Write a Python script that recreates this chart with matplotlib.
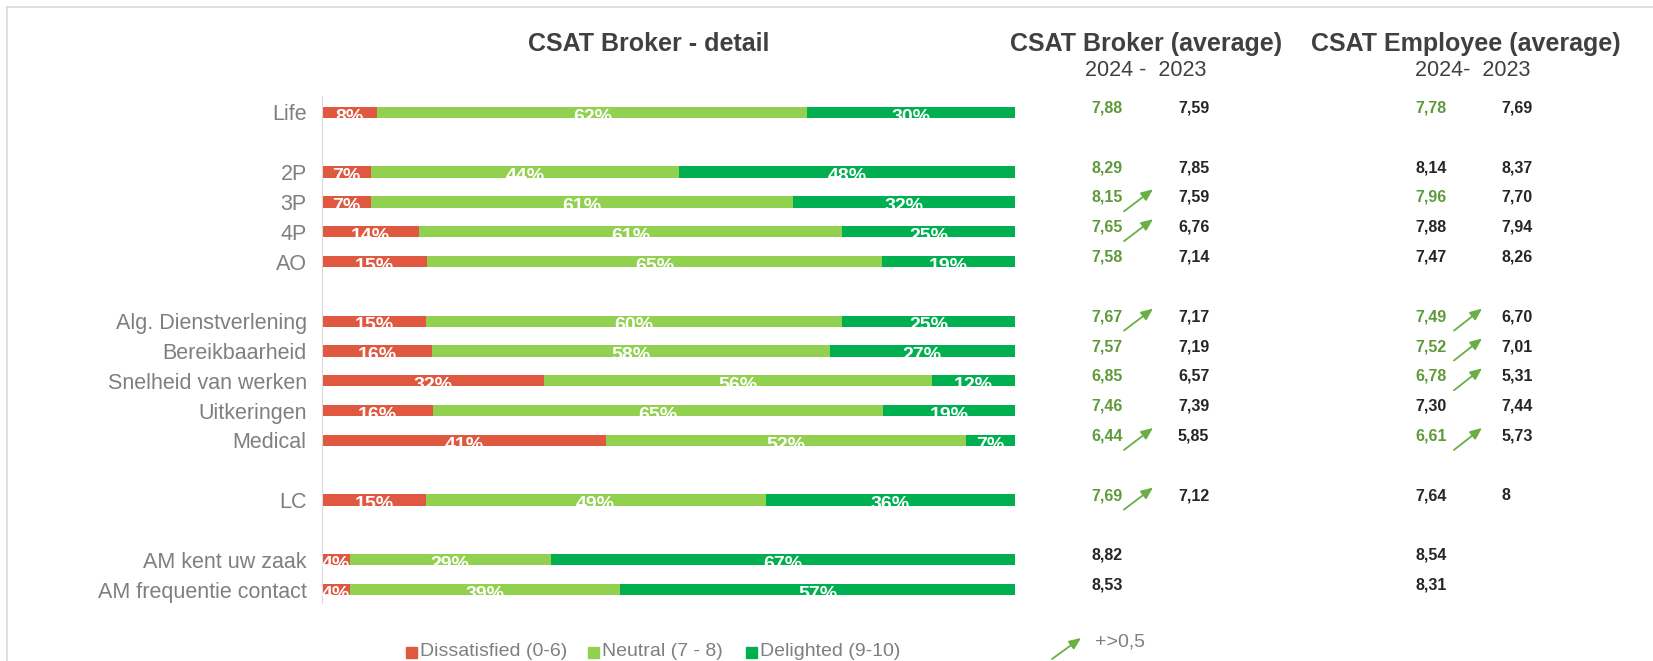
import matplotlib
matplotlib.use('Agg')
import matplotlib.pyplot as plt
import matplotlib.transforms as mtransforms
from matplotlib.patches import Rectangle, FancyArrowPatch
from matplotlib.lines import Line2D

plt.rcParams['font.family'] = ['Liberation Sans', 'DejaVu Sans']

# --- DATOS ---
categorias = ['Life', '2P', '3P', '4P', 'AO', 'Alg. Dienstverlening', 'Bereikbaarheid',
              'Snelheid van werken', 'Uitkeringen', 'Medical', 'LC',
              'AM kent uw zaak', 'AM frequentie contact']
filas = [0, 2, 3, 4, 5, 7, 8, 9, 10, 11, 13, 15, 16]  # posición vertical (con huecos)

dissatisfied = [8, 7, 7, 14, 15, 15, 16, 32, 16, 41, 15, 4, 4]
neutral = [62, 44, 61, 61, 65, 60, 58, 56, 65, 52, 49, 29, 39]
delighted = [30, 48, 32, 25, 19, 25, 27, 12, 19, 7, 36, 67, 57]

broker_2024 = ['7,88', '8,29', '8,15', '7,65', '7,58', '7,67', '7,57', '6,85', '7,46', '6,44', '7,69', '8,82', '8,53']
broker_2023 = ['7,59', '7,85', '7,59', '6,76', '7,14', '7,17', '7,19', '6,57', '7,39', '5,85', '7,12', '', '']
broker_verde = [True] * 11 + [False, False]
broker_flecha = [False, False, True, True, False, True, False, False, False, True, True, False, False]

empl_2024 = ['7,78', '8,14', '7,96', '7,88', '7,47', '7,49', '7,52', '6,78', '7,30', '6,61', '7,64', '8,54', '8,31']
empl_2023 = ['7,69', '8,37', '7,70', '7,94', '8,26', '6,70', '7,01', '5,31', '7,44', '5,73', '8', '', '']
empl_verde = [True, False, True, False, False, True, True, True, False, True, False, False, False]
empl_flecha = [False, False, False, False, False, True, True, True, False, True, False, False, False]

leyenda = ['Dissatisfied (0-6)', 'Neutral (7 - 8)', 'Delighted (9-10)']

# --- ESTILO ---
ROJO = '#E15841'
VERDE_CLARO = '#92D050'
VERDE_OSCURO = '#00B050'
VERDE_TEXTO = '#5F9A3A'
FLECHA = '#6AAE46'
NEGRO = '#262626'
GRIS = '#7F7F7F'
TITULO = '#404040'

W, H = 1653, 661


def fx(x):
    return x / W


def fy(y):
    return 1 - y / H


fig = plt.figure(figsize=(W / 100, H / 100), dpi=100)
fig.patch.set_facecolor('white')

# marco
fig.add_artist(Line2D([fx(7), 1], [fy(7), fy(7)], color='#D9D9D9', lw=1.2))
fig.add_artist(Line2D([fx(7), fx(7)], [fy(7), 0], color='#D9D9D9', lw=1.2))

ax_l, ax_r, ax_t, ax_b = 322, 1015, 96, 603
ax = fig.add_axes([fx(ax_l), fy(ax_b), fx(ax_r - ax_l), (ax_b - ax_t) / H])
ax.set_xlim(0, 100)
ax.set_ylim(16.45, -0.55)
for s in ['top', 'right', 'bottom']:
    ax.spines[s].set_visible(False)
ax.spines['left'].set_color('#D9D9D9')
ax.set_xticks([])
ax.set_yticks(filas)
ax.set_yticklabels(categorias, fontsize=15.5, color=GRIS)
ax.tick_params(axis='y', length=0, pad=11)
ax.patch.set_alpha(0)

alto = 0.38
for i, y in enumerate(filas):
    total = dissatisfied[i] + neutral[i] + delighted[i]
    vals = [dissatisfied[i], neutral[i], delighted[i]]
    izq = 0
    for v, c in zip(vals, [ROJO, VERDE_CLARO, VERDE_OSCURO]):
        w = v * 100 / total
        ax.barh(y, w, left=izq, height=alto, color=c, edgecolor='none')
        ax.text(izq + w / 2, y + alto / 2 + 0.12, f'{v}%', ha='center', va='baseline',
                color='white', fontsize=14, fontweight='bold')
        izq += w

blend = mtransforms.blended_transform_factory(fig.transFigure, ax.transData)
dy_num = -0.15  # los números quedan un poco por encima del centro de la barra

for i, y in enumerate(filas):
    yt = y + dy_num
    ax.text(fx(1091), yt, broker_2024[i], transform=blend, ha='left', va='center',
            fontsize=11.5, fontweight='bold', color=VERDE_TEXTO if broker_verde[i] else NEGRO)
    ax.text(fx(1178), yt, broker_2023[i], transform=blend, ha='left', va='center',
            fontsize=11.5, fontweight='bold', color=NEGRO)
    ax.text(fx(1415), yt, empl_2024[i], transform=blend, ha='left', va='center',
            fontsize=11.5, fontweight='bold', color=VERDE_TEXTO if empl_verde[i] else NEGRO)
    ax.text(fx(1501), yt, empl_2023[i], transform=blend, ha='left', va='center',
            fontsize=11.5, fontweight='bold', color=NEGRO)
    if broker_flecha[i]:
        ax.annotate('', xy=(fx(1153), y - 0.42), xycoords=blend, xytext=(-29, -22),
                    textcoords='offset pixels',
                    arrowprops=dict(arrowstyle='-|>,head_length=0.7,head_width=0.3',
                                    color=FLECHA, lw=1.3, shrinkA=0, shrinkB=0),
                    annotation_clip=False)
    if empl_flecha[i]:
        ax.annotate('', xy=(fx(1482), y - 0.42), xycoords=blend, xytext=(-28, -22),
                    textcoords='offset pixels',
                    arrowprops=dict(arrowstyle='-|>,head_length=0.7,head_width=0.3',
                                    color=FLECHA, lw=1.3, shrinkA=0, shrinkB=0),
                    annotation_clip=False)

# --- TITULOS ---
fig.text(fx(649), fy(44), 'CSAT Broker - detail', ha='center', va='center',
         fontsize=18, fontweight='bold', color=TITULO)
fig.text(fx(1146), fy(44), 'CSAT Broker (average)', ha='center', va='center',
         fontsize=18, fontweight='bold', color=TITULO)
fig.text(fx(1466), fy(44), 'CSAT Employee (average)', ha='center', va='center',
         fontsize=18, fontweight='bold', color=TITULO)
fig.text(fx(1146), fy(71), '2024 -  2023', ha='center', va='center',
         fontsize=15.5, color=TITULO)
fig.text(fx(1473), fy(71), '2024-  2023', ha='center', va='center',
         fontsize=15.5, color=TITULO)

# --- LEYENDA ---
for x0, txt, c in zip([406, 588, 746], leyenda, [ROJO, VERDE_CLARO, VERDE_OSCURO]):
    fig.add_artist(Rectangle((fx(x0), fy(658)), fx(11), 11 / H, color=c,
                             transform=fig.transFigure))
    fig.text(fx(x0 + 14), fy(652), txt, ha='left', va='center', fontsize=14, color=GRIS)

fig.add_artist(FancyArrowPatch(
    (fx(1052), fy(659)), (fx(1081), fy(638)), transform=fig.transFigure,
    arrowstyle='-|>,head_length=0.7,head_width=0.3', color=FLECHA, lw=1.3,
    shrinkA=0, shrinkB=0, mutation_scale=10))
fig.text(fx(1095), fy(642), '+>0,5', ha='left', va='center', fontsize=14, color=GRIS)

fig.savefig('out.png', dpi=100, facecolor='white')
